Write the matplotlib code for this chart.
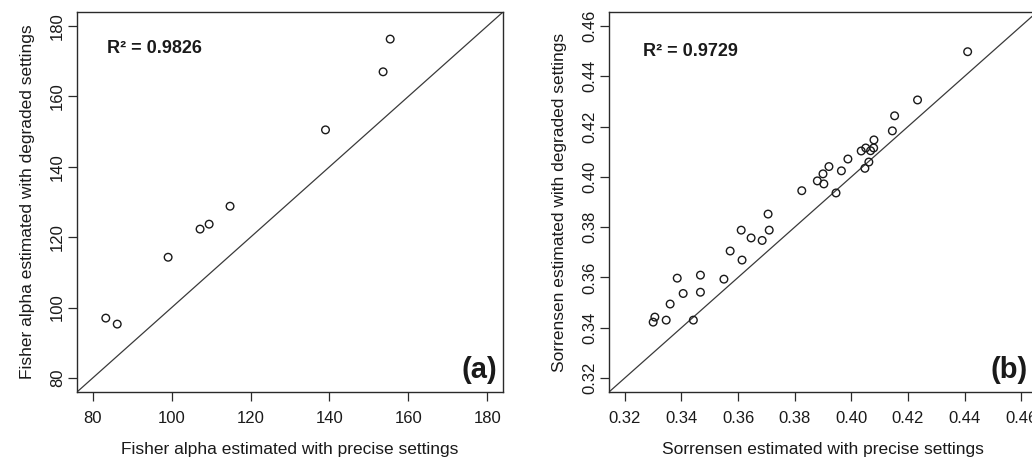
import matplotlib
matplotlib.use("Agg")
import matplotlib.pyplot as plt

plt.rcParams['font.family'] = ['Liberation Sans', 'DejaVu Sans']

# Panel (a): Fisher alpha
fisher_precise = [155.4, 153.6, 139.0, 114.8, 107.2, 109.5, 99.1, 83.3, 86.2]
fisher_degraded = [176.3, 167.0, 150.5, 128.8, 122.3, 123.7, 114.3, 97.0, 95.3]
fisher_ticks = [80, 100, 120, 140, 160, 180]
fisher_r2 = "R² = 0.9826"

# Panel (b): Sorensen
sor_precise = [0.4411, 0.4234, 0.4153, 0.4145, 0.4080, 0.4079, 0.4068, 0.4051,
               0.4035, 0.4062, 0.4048, 0.3988, 0.3965, 0.3921, 0.3900, 0.3903,
               0.3880, 0.3946, 0.3825, 0.3706, 0.3710, 0.3611, 0.3646, 0.3685,
               0.3572, 0.3614, 0.3550, 0.3467, 0.3467, 0.3385, 0.3406, 0.3360,
               0.3346, 0.3442, 0.3300, 0.3306]
sor_degraded = [0.4498, 0.4306, 0.4243, 0.4183, 0.4147, 0.4115, 0.4104, 0.4115,
                0.4103, 0.4059, 0.4034, 0.4071, 0.4024, 0.4041, 0.4012, 0.3972,
                0.3984, 0.3936, 0.3945, 0.3852, 0.3788, 0.3788, 0.3757, 0.3747,
                0.3705, 0.3669, 0.3593, 0.3609, 0.3541, 0.3597, 0.3536, 0.3494,
                0.3430, 0.3430, 0.3422, 0.3442]
sor_ticks = [0.32, 0.34, 0.36, 0.38, 0.40, 0.42, 0.44, 0.46]
sor_ticklabels = ["0.32", "0.34", "0.36", "0.38", "0.40", "0.42", "0.44", "0.46"]
sor_r2 = "R² = 0.9729"

fig = plt.figure(figsize=(10.32, 4.61), dpi=100)
ax1 = fig.add_axes([77/1032, 69/461, 426/1032, 380/461])
ax2 = fig.add_axes([609/1032, 69/461, 428/1032, 380/461])

txt = '#1a1a1a'
edge = '#2a2a2a'


def style(ax, lo, hi, ticks, labels, xlabel, ylabel, r2, r2pos, tag, tagx):
    pad = (hi - lo) * 0.04
    ax.set_xlim(lo - pad, hi + pad)
    ax.set_ylim(lo - pad, hi + pad)
    ax.axline((lo, lo), slope=1, color='#3a3a3a', lw=0.9, zorder=1)
    ax.set_xticks(ticks)
    ax.set_yticks(ticks)
    ax.set_xticklabels(labels)
    ax.set_yticklabels(labels, rotation=90, va='center')
    ax.tick_params(axis='both', length=6.5, width=0.9, color=edge,
                   labelsize=12, labelcolor=txt)
    ax.tick_params(axis='x', pad=7)
    ax.tick_params(axis='y', pad=2)
    for s in ax.spines.values():
        s.set_color(edge)
        s.set_linewidth(1.0)
    ax.set_xlabel(xlabel, fontsize=12.5, color=txt, labelpad=12)
    ax.set_ylabel(ylabel, fontsize=12.5, color=txt, labelpad=11)
    ax.text(r2pos[0], r2pos[1], r2, transform=ax.transAxes, fontsize=13,
            fontweight='bold', color=txt, ha='left', va='center')
    ax.text(tagx, 0.058, tag, transform=ax.transAxes, fontsize=21,
            fontweight='bold', color=txt, ha='right', va='center')


ax1.scatter(fisher_precise, fisher_degraded, s=30, facecolors='none',
            edgecolors='#1a1a1a', linewidths=1.0, zorder=3)
style(ax1, 80, 180, fisher_ticks, [str(t) for t in fisher_ticks],
      "Fisher alpha estimated with precise settings",
      "Fisher alpha estimated with degraded settings",
      fisher_r2, (0.070, 0.905), "(a)", 0.986)

ax2.scatter(sor_precise, sor_degraded, s=30, facecolors='none',
            edgecolors='#1a1a1a', linewidths=1.0, zorder=3)
style(ax2, 0.32, 0.46, sor_ticks, sor_ticklabels,
      "Sorrensen estimated with precise settings",
      "Sorrensen estimated with degraded settings",
      sor_r2, (0.079, 0.895), "(b)", 0.979)

fig.savefig("out.png", dpi=100)
